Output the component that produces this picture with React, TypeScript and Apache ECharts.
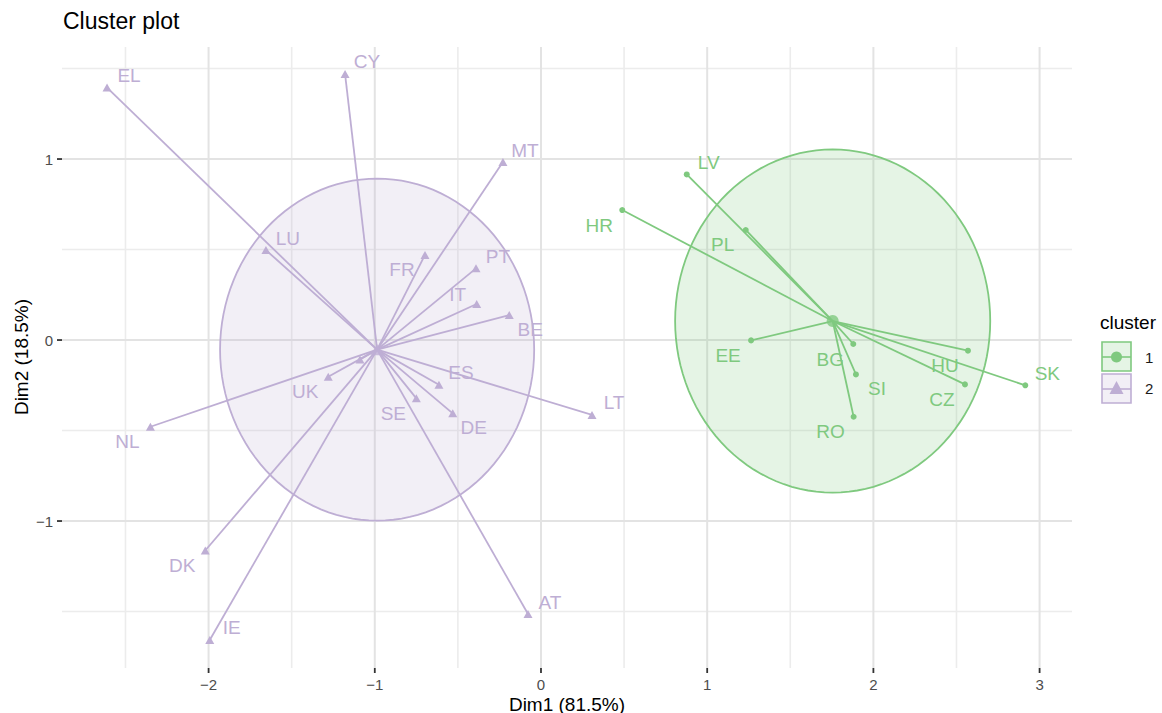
import React, { useEffect, useRef } from "react";
import * as echarts from "echarts";

// ---- data ----
const countries1 = ["LV", "HR", "PL", "EE", "BG", "SI", "RO", "HU", "CZ", "SK"];
const dim1Cluster1 = [0.877, 0.489, 1.232, 1.264, 1.879, 1.895, 1.881, 2.569, 2.551, 2.914];
const dim2Cluster1 = [0.915, 0.718, 0.608, -0.002, -0.022, -0.19, -0.424, -0.059, -0.245, -0.25];

const countries2 = ["EL", "CY", "MT", "LU", "FR", "PT", "IT", "BE", "ES", "SE", "DE", "UK", "FI", "LT", "NL", "DK", "IE", "AT"];
const dim1Cluster2 = [-2.611, -1.179, -0.229, -1.655, -0.698, -0.391, -0.387, -0.191, -0.614, -0.75, -0.531, -1.28, -1.089, 0.307, -2.35, -2.02, -1.993, -0.078];
const dim2Cluster2 = [1.395, 1.47, 0.983, 0.497, 0.47, 0.396, 0.199, 0.138, -0.247, -0.322, -0.405, -0.203, -0.107, -0.414, -0.479, -1.163, -1.657, -1.514];

const centroid1 = [1.755, 0.105];
const centroid2 = [-0.986, -0.053];
const radius1 = 0.948;
const radius2 = 0.945;

const xMajor = [-2, -1, 0, 1, 2, 3];
const xMinor = [-2.5, -1.5, -0.5, 0.5, 1.5, 2.5];
const yMajor = [-1, 0, 1];
const yMinor = [-1.5, -0.5, 0.5, 1.5];

const clusterNames = ["1", "2"];

// label placement (repel side) – styling, not data
const labelSide1 = ["ne", "sw", "sw", "sw", "sw", "se", "sw", "sw", "sw", "ne"];
const labelSide2 = ["ne", "ne", "ne", "ne", "sw", "ne", "nw", "se", "ne", "sw", "se", "sw", "", "ne", "sw", "sw", "ne", "ne"];

const GREEN = "#7FC97F";
const PURPLE = "#BEAED4";
const FONT = "'Liberation Sans', Arial, Helvetica, sans-serif";

const sideOffset: Record<string, number[]> = {
  ne: [22, -12],
  sw: [-23, 15],
  nw: [-19, -10],
  se: [21, 14],
};

const fmt = (v: number) => (v < 0 ? "\u2212" + Math.abs(v) : String(v));

export default function App() {
  const ref = useRef<HTMLDivElement>(null);

  useEffect(() => {
    if (!ref.current) return;
    const chart = echarts.init(ref.current, null, { renderer: "svg" });

    const pts = (xs: number[], ys: number[], names: string[], sides: string[]) =>
      xs.map((x, i) => ({
        name: names[i],
        value: [x, ys[i]],
        label: sides[i] ? { show: true, offset: sideOffset[sides[i]] } : { show: false },
      }));

    const starData = (xs: number[], ys: number[], c: number[]) => xs.map((x, i) => [x, ys[i], c[0], c[1]]);

    const gridSeries = {
      type: "custom",
      z: 0,
      clip: false,
      silent: true,
      data: [[0, 0]],
      renderItem: (params: any, api: any) => {
        const cs = params.coordSys;
        const children: any[] = [];
        xMinor.forEach((v) => {
          const p = api.coord([v, 0]);
          children.push({ type: "line", shape: { x1: p[0], y1: cs.y, x2: p[0], y2: cs.y + cs.height }, style: { stroke: "#ececec", lineWidth: 1.6 } });
        });
        yMinor.forEach((v) => {
          const p = api.coord([0, v]);
          children.push({ type: "line", shape: { x1: cs.x, y1: p[1], x2: cs.x + cs.width, y2: p[1] }, style: { stroke: "#ececec", lineWidth: 1.6 } });
        });
        xMajor.forEach((v) => {
          const p = api.coord([v, 0]);
          children.push({ type: "line", shape: { x1: p[0], y1: cs.y, x2: p[0], y2: cs.y + cs.height }, style: { stroke: "#e3e3e3", lineWidth: 2 } });
          children.push({ type: "line", shape: { x1: p[0], y1: cs.y + cs.height, x2: p[0], y2: cs.y + cs.height + 5 }, style: { stroke: "#333333", lineWidth: 1.8 } });
          children.push({
            type: "text",
            x: p[0],
            y: cs.y + cs.height + 9,
            style: { text: fmt(v), fill: "#4d4d4d", fontSize: 15, fontFamily: FONT, align: "center", textAlign: "center", verticalAlign: "top", textVerticalAlign: "top" },
          });
        });
        yMajor.forEach((v) => {
          const p = api.coord([0, v]);
          children.push({ type: "line", shape: { x1: cs.x, y1: p[1], x2: cs.x + cs.width, y2: p[1] }, style: { stroke: "#e3e3e3", lineWidth: 2 } });
          children.push({ type: "line", shape: { x1: cs.x - 5, y1: p[1], x2: cs.x, y2: p[1] }, style: { stroke: "#333333", lineWidth: 1.8 } });
          children.push({
            type: "text",
            x: cs.x - 9,
            y: p[1],
            style: { text: fmt(v), fill: "#4d4d4d", fontSize: 15, fontFamily: FONT, align: "right", textAlign: "right", verticalAlign: "middle", textVerticalAlign: "middle" },
          });
        });
        return { type: "group", children };
      },
    };

    const ellipseSeries = (c: number[], r: number, color: string, fill: string, z: number) => ({
      type: "custom",
      z,
      silent: true,
      clip: false,
      data: [[c[0], c[1], r]],
      renderItem: (params: any, api: any) => {
        const cx = api.value(0), cy = api.value(1), rr = api.value(2);
        const points: number[][] = [];
        for (let k = 0; k <= 120; k++) {
          const t = (k / 120) * Math.PI * 2;
          points.push(api.coord([cx + rr * Math.cos(t), cy + rr * Math.sin(t)]));
        }
        return { type: "polygon", shape: { points }, style: { fill, stroke: color, lineWidth: 1.8 } };
      },
    });

    const starSeries = (data: number[][], color: string, z: number) => ({
      type: "custom",
      z,
      silent: true,
      clip: false,
      data,
      renderItem: (params: any, api: any) => {
        const p = api.coord([api.value(0), api.value(1)]);
        const c = api.coord([api.value(2), api.value(3)]);
        return { type: "line", shape: { x1: c[0], y1: c[1], x2: p[0], y2: p[1] }, style: { stroke: color, lineWidth: 1.8 } };
      },
    });

    const labelStyle = (color: string) => ({
      show: true,
      position: "inside",
      formatter: "{b}",
      color,
      fontSize: 19,
      fontFamily: FONT,
      align: "center",
      verticalAlign: "middle",
    });

    chart.setOption({
      animation: false,
      backgroundColor: "#ffffff",
      grid: { left: 62, right: 90, top: 47, bottom: 45, containLabel: false },
      xAxis: {
        type: "value",
        min: -2.882,
        max: 3.195,
        axisLine: { show: false },
        axisTick: { show: false },
        axisLabel: { show: false },
        splitLine: { show: false },
      },
      yAxis: {
        type: "value",
        min: -1.812,
        max: 1.619,
        axisLine: { show: false },
        axisTick: { show: false },
        axisLabel: { show: false },
        splitLine: { show: false },
      },
      series: [
        gridSeries,
        ellipseSeries(centroid1, radius1, GREEN, "rgba(127,201,127,0.2)", 1),
        ellipseSeries(centroid2, radius2, PURPLE, "rgba(190,174,212,0.2)", 1),
        starSeries(starData(dim1Cluster1, dim2Cluster1, centroid1), GREEN, 2),
        starSeries(starData(dim1Cluster2, dim2Cluster2, centroid2), PURPLE, 2),
        {
          type: "scatter",
          name: clusterNames[0],
          z: 3,
          symbol: "circle",
          symbolSize: 6,
          itemStyle: { color: GREEN, opacity: 1 },
          label: labelStyle(GREEN),
          data: pts(dim1Cluster1, dim2Cluster1, countries1, labelSide1),
        },
        {
          type: "scatter",
          name: clusterNames[1],
          z: 3,
          symbol: "triangle",
          symbolSize: [9, 8],
          itemStyle: { color: PURPLE, opacity: 1 },
          label: labelStyle(PURPLE),
          data: pts(dim1Cluster2, dim2Cluster2, countries2, labelSide2),
        },
        {
          type: "scatter",
          z: 3,
          symbol: "circle",
          symbolSize: 12,
          itemStyle: { color: GREEN },
          data: [{ name: "centroid 1", value: centroid1 }],
        },
        {
          type: "scatter",
          z: 3,
          symbol: "triangle",
          symbolSize: [13, 11],
          itemStyle: { color: PURPLE },
          data: [{ name: "centroid 2", value: centroid2 }],
        },
      ],
      graphic: [
        { type: "text", left: 63, top: 9, style: { text: "Cluster plot", fill: "#000", fontSize: 23, fontFamily: FONT } },
        {
          type: "text",
          x: 567,
          y: 704,
          style: { text: "Dim1 (81.5%)", fill: "#000", fontSize: 19, fontFamily: FONT, align: "center", textAlign: "center", verticalAlign: "middle", textVerticalAlign: "middle" },
        },
        {
          type: "text",
          x: 21,
          y: 357,
          rotation: Math.PI / 2,
          style: { text: "Dim2 (18.5%)", fill: "#000", fontSize: 19, fontFamily: FONT, align: "center", textAlign: "center", verticalAlign: "middle", textVerticalAlign: "middle" },
        },
        // legend
        {
          type: "text",
          x: 1100,
          y: 322,
          style: { text: "cluster", fill: "#000", fontSize: 19, fontFamily: FONT, verticalAlign: "middle", textVerticalAlign: "middle" },
        },
        { type: "rect", shape: { x: 1102, y: 342, width: 29, height: 29 }, style: { fill: "rgba(127,201,127,0.2)", stroke: GREEN, lineWidth: 1.6 } },
        { type: "line", shape: { x1: 1102, y1: 357, x2: 1131, y2: 357 }, style: { stroke: GREEN, lineWidth: 1.6 } },
        { type: "circle", shape: { cx: 1116.5, cy: 357, r: 5.5 }, style: { fill: GREEN } },
        { type: "text", x: 1145, y: 357, style: { text: clusterNames[0], fill: "#1a1a1a", fontSize: 15, fontFamily: FONT, verticalAlign: "middle", textVerticalAlign: "middle" } },
        { type: "rect", shape: { x: 1102, y: 374, width: 29, height: 29 }, style: { fill: "rgba(190,174,212,0.2)", stroke: PURPLE, lineWidth: 1.6 } },
        { type: "line", shape: { x1: 1102, y1: 389, x2: 1131, y2: 389 }, style: { stroke: PURPLE, lineWidth: 1.6 } },
        { type: "polygon", shape: { points: [[1116.5, 381], [1109.5, 394], [1123.5, 394]] }, style: { fill: PURPLE } },
        { type: "text", x: 1145, y: 388, style: { text: clusterNames[1], fill: "#1a1a1a", fontSize: 15, fontFamily: FONT, verticalAlign: "middle", textVerticalAlign: "middle" } },
      ],
    });

    return () => chart.dispose();
  }, []);

  return <div ref={ref} style={{ position: "fixed", left: 0, top: 0, width: 1162, height: 713, background: "#fff" }} />;
}
